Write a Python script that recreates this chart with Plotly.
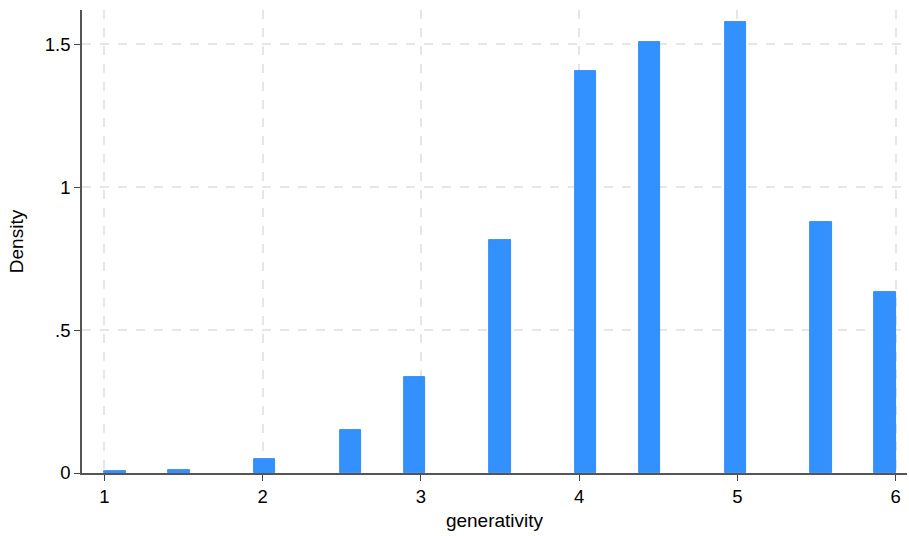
import math
import plotly.graph_objects as go

# Data: distinct values of generativity and histogram densities (37 bins over [1, 6])
values = [1.0, 1.5, 2.0, 2.5, 3.0, 3.5, 4.0, 4.5, 5.0, 5.5, 6.0]
density = [0.008, 0.0115, 0.049, 0.151, 0.337, 0.816, 1.407, 1.507, 1.579, 0.879, 0.634]
n_bins = 37
x_min, x_max = 1.0, 6.0
x_ticks = [1, 2, 3, 4, 5, 6]
y_ticks = [0, 0.5, 1, 1.5]
y_tick_labels = ["0", ".5", "1", "1.5"]

w = (x_max - x_min) / n_bins
centers = []
for v in values:
    k = min(int(math.floor((v - x_min) / w + 1e-9)), n_bins - 1)
    centers.append(x_min + (k + 0.5) * w)

fig = go.Figure()
fig.add_trace(go.Bar(
    x=centers, y=density, width=[w] * len(centers),
    marker=dict(color="#3391ff", line=dict(color="#1f7ff5", width=0.8)),
    showlegend=False,
))

tick_font = dict(family="Liberation Sans, Arial, sans-serif", size=18.5, color="black")
title_font = dict(family="Liberation Sans, Arial, sans-serif", size=19, color="black")
fig.update_layout(
    width=909, height=536,
    margin=dict(l=82, r=2, t=10, b=63, autoexpand=False),
    plot_bgcolor="white", paper_bgcolor="white",
    font=tick_font,
    bargap=0,
)
fig.update_xaxes(
    range=[0.859, 6.071],
    tickvals=x_ticks, ticktext=[str(t) for t in x_ticks],
    ticks="outside", ticklen=6, tickwidth=1.2, tickcolor="#444",
    showline=True, linecolor="#555", linewidth=1.5,
    showgrid=True, gridcolor="#e6e6e6", gridwidth=1.5, griddash="dash",
    zeroline=False,
    title=dict(text="generativity", font=title_font, standoff=8),
    tickfont=tick_font,
)
fig.update_yaxes(
    range=[0, 1.62],
    tickvals=y_ticks, ticktext=y_tick_labels,
    ticks="outside", ticklen=6, tickwidth=1.2, tickcolor="#444",
    showline=True, linecolor="#555", linewidth=1.5,
    showgrid=True, gridcolor="#e6e6e6", gridwidth=1.5, griddash="dash",
    zeroline=False,
    title=dict(text="Density", font=title_font, standoff=16),
    tickfont=tick_font,
)

fig.write_html("out.html", config={"displayModeBar": False},
               post_script="document.body.style.margin='0';")
